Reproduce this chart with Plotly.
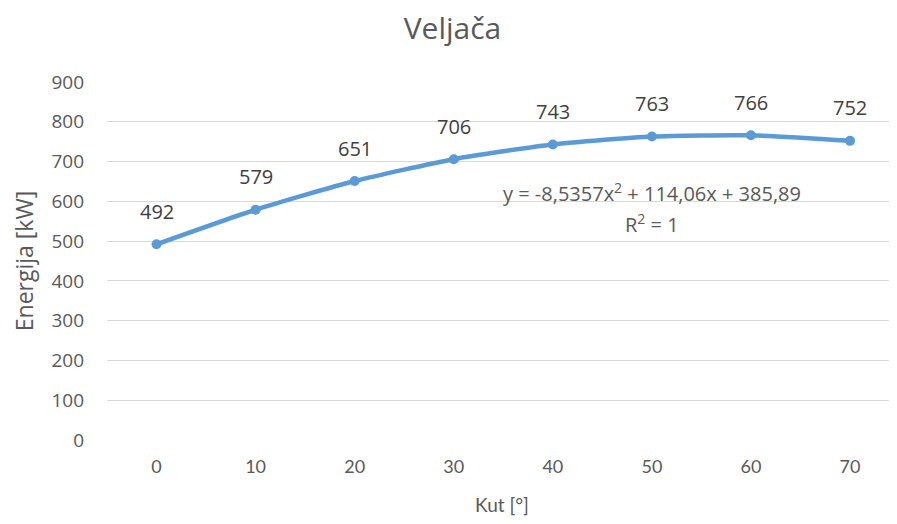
import plotly.graph_objs as go

kut = [0, 10, 20, 30, 40, 50, 60, 70]
energija = [492, 579, 651, 706, 743, 763, 766, 752]
y_ticks = [0, 100, 200, 300, 400, 500, 600, 700, 800, 900]

boja = "#5B9BD5"
siva = "#595959"
font_seg = "Open Sans, Noto Sans, sans-serif"
font_cal = "Lato, Carlito, sans-serif"

fig = go.Figure(
    data=[
        go.Scatter(
            x=kut,
            y=energija,
            mode="lines+markers",
            line=dict(color=boja, width=4.5, shape="spline", smoothing=0.6),
            marker=dict(color=boja, size=10),
            hovertemplate="%{x}<br>" + "%{y}<br>" + "<extra></extra>",
            showlegend=False,
        )
    ]
)

# oznake podataka iznad tocaka
for xv, yv in zip(kut, energija):
    fig.add_annotation(
        x=xv,
        y=yv,
        text=str(yv),
        showarrow=False,
        yshift=33,
        font=dict(family=font_seg, size=20, color="#404040"),
    )

# jednadzba trenda
fig.add_annotation(
    x=50, y=623, text="y = -8,5357x<sup>2</sup> + 114,06x + 385,89",
    showarrow=False, font=dict(family=font_seg, size=20, color=siva),
)
fig.add_annotation(
    x=50, y=545, text="R<sup>2</sup> = 1",
    showarrow=False, font=dict(family=font_seg, size=20, color=siva),
)

# stranica ima marginu od 8 px, pa je slika za toliko manja
fig.update_layout(
    width=889,
    height=508,
    margin=dict(l=99, r=0, t=74, b=76),
    plot_bgcolor="white",
    paper_bgcolor="white",
    title=dict(
        text="Veljača",
        x=0.5,
        xanchor="center",
        y=0.96,
        yanchor="middle",
        font=dict(family=font_seg, size=30, color=siva),
    ),
    xaxis=dict(
        range=[-5, 74.74],
        tickvals=kut,
        ticktext=[str(k) for k in kut],
        showgrid=False,
        zeroline=False,
        showline=False,
        tickfont=dict(family=font_cal, size=18, color=siva),
        ticks="",
        ticklabelstandoff=14,
        title=dict(text="Kut [°]", font=dict(family=font_cal, size=19, color=siva), standoff=22),
    ),
    yaxis=dict(
        range=[0, 900],
        tickvals=y_ticks,
        showgrid=True,
        gridcolor="#D9D9D9",
        gridwidth=1,
        zeroline=False,
        showline=False,
        tickfont=dict(family=font_seg, size=19, color=siva),
        ticks="",
        ticklabelstandoff=22,
        title=dict(text="Energija [kW]", font=dict(family=font_seg, size=23, color=siva), standoff=12),
    ),
)

fig.write_html("out.html")
